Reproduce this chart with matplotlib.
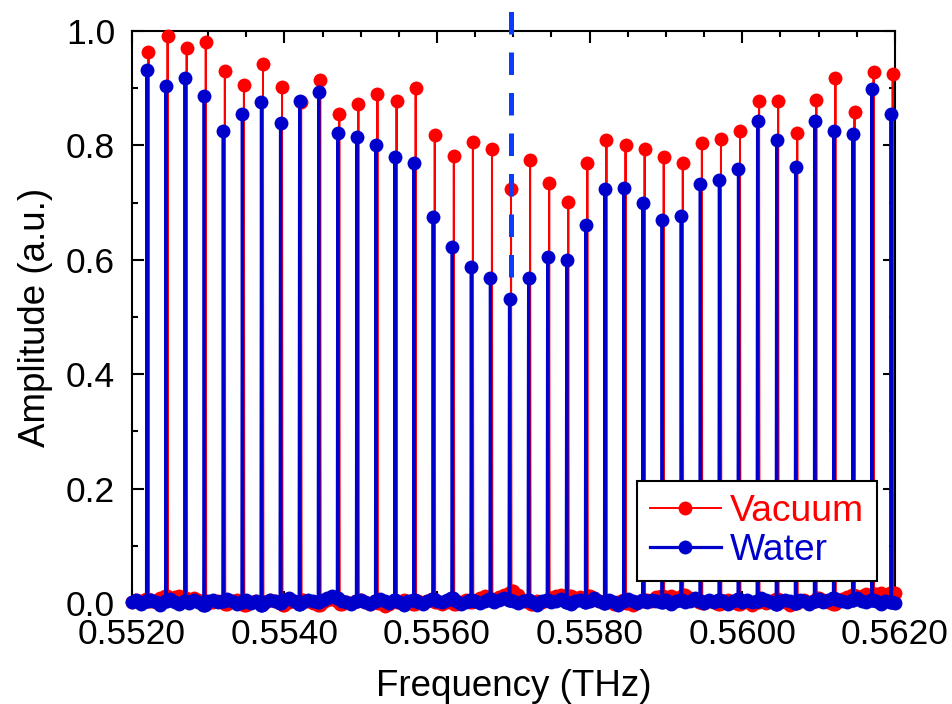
import numpy as np
import matplotlib.pyplot as plt
from matplotlib.ticker import MultipleLocator, FormatStrFormatter

plt.rcParams["font.family"] = ["Liberation Sans", "DejaVu Sans"]

# comb line frequencies (THz)
peak_freq = [
    0.55220, 0.55245, 0.55270, 0.55295, 0.55320, 0.55345, 0.55370, 0.55395,
    0.55420, 0.55445, 0.55470, 0.55495, 0.55520, 0.55545, 0.55570, 0.55595,
    0.55620, 0.55645, 0.55670, 0.55695, 0.55720, 0.55745, 0.55770, 0.55795,
    0.55820, 0.55845, 0.55870, 0.55895, 0.55920, 0.55945, 0.55970, 0.55995,
    0.56020, 0.56045, 0.56070, 0.56095, 0.56120, 0.56145, 0.56170, 0.56195,
]
vacuum_peak = [
    0.964, 0.991, 0.971, 0.980, 0.930, 0.906, 0.942, 0.902,
    0.875, 0.914, 0.854, 0.872, 0.889, 0.878, 0.901, 0.818,
    0.781, 0.806, 0.793, 0.724, 0.774, 0.734, 0.701, 0.769,
    0.809, 0.800, 0.793, 0.780, 0.769, 0.805, 0.811, 0.826,
    0.878, 0.877, 0.822, 0.880, 0.917, 0.858, 0.928, 0.925,
]
water_peak = [
    0.931, 0.904, 0.917, 0.886, 0.826, 0.855, 0.875, 0.839,
    0.878, 0.893, 0.821, 0.815, 0.800, 0.779, 0.770, 0.674,
    0.623, 0.587, 0.568, 0.531, 0.569, 0.604, 0.600, 0.660,
    0.723, 0.725, 0.699, 0.670, 0.677, 0.732, 0.740, 0.759,
    0.843, 0.809, 0.762, 0.843, 0.826, 0.820, 0.899, 0.855,
]
# off-line background level, sampled every 0.0000625 THz from 0.5520
vacuum_base = [
    0.002, 0.005, 0.003, 0.007, 0.004, 0.002, 0.009, 0.012, 0.008, 0.011,
    0.013, 0.009, 0.005, 0.008, 0.006, 0.003, 0.000, 0.002, 0.004, 0.001,
    -0.002, 0.003, 0.005, 0.000, -0.004, 0.001, 0.004, -0.001, 0.002, 0.005,
    0.003, 0.000, -0.003, 0.002, 0.004, 0.001, 0.006, 0.003, 0.000, -0.003,
    0.001, 0.005, 0.007, 0.003, -0.001, 0.002, 0.000, 0.004, 0.006, 0.001,
    -0.002, 0.003, 0.000, -0.005, -0.001, 0.003, 0.001, 0.005, 0.002, -0.001,
    0.003, 0.000, 0.004, 0.007, 0.002, -0.002, 0.001, 0.004, -0.001, 0.002,
    0.005, 0.001, 0.003, 0.008, 0.012, 0.007, 0.003, 0.010, 0.014, 0.018,
    0.021, 0.014, 0.006, 0.002, -0.001, 0.003, 0.001, 0.005, 0.008, 0.012,
    0.014, 0.010, 0.013, 0.008, 0.011, 0.006, 0.012, 0.008, 0.004, 0.001,
    0.003, -0.001, 0.002, 0.005, 0.000, -0.004, 0.001, 0.004, 0.006, 0.003,
    0.010, 0.013, 0.009, 0.012, 0.008, 0.011, 0.014, 0.009, 0.005, 0.002,
    0.000, 0.004, 0.001, -0.002, 0.003, 0.005, 0.002, -0.001, 0.004, 0.001,
    -0.003, 0.002, 0.005, 0.000, 0.003, 0.007, 0.004, 0.001, -0.004, 0.000,
    0.003, 0.005, 0.001, 0.004, 0.008, 0.005, 0.002, -0.001, 0.003, 0.007,
    0.010, 0.014, 0.010, 0.013, 0.016, 0.012, 0.015, 0.018, 0.014, 0.017,
    0.017,
]
water_base = [
    0.002, 0.005, -0.002, 0.003, 0.006, 0.001, -0.003, 0.004, 0.007, 0.002,
    -0.001, 0.004, 0.000, 0.005, 0.002, -0.003, 0.003, 0.006, 0.001, 0.004,
    0.007, 0.003, -0.002, 0.002, 0.005, 0.000, 0.004, -0.004, 0.001, 0.006,
    0.003, 0.000, 0.005, 0.008, 0.004, -0.002, 0.002, 0.006, 0.003, 0.001,
    0.005, 0.009, 0.012, 0.008, 0.004, 0.001, -0.002, 0.003, 0.006, 0.002,
    -0.001, 0.004, 0.007, 0.003, 0.000, 0.005, 0.002, -0.003, 0.004, 0.006,
    0.002, -0.002, 0.003, 0.007, 0.004, 0.001, 0.005, 0.008, 0.003, -0.001,
    0.002, 0.006, 0.003, 0.000, 0.004, 0.007, 0.002, 0.005, 0.009, 0.006,
    0.003, 0.000, 0.004, 0.006, 0.002, -0.003, 0.003, 0.005, 0.001, 0.004,
    0.007, 0.002, -0.002, 0.004, 0.006, 0.001, 0.003, 0.008, 0.004, 0.000,
    0.005, 0.002, -0.003, 0.004, 0.007, 0.003, 0.000, 0.005, 0.002, 0.006,
    0.004, 0.001, 0.005, -0.002, 0.003, 0.006, 0.002, 0.004, 0.008, 0.003,
    0.000, 0.005, 0.002, 0.006, 0.003, -0.002, 0.004, 0.007, 0.002, 0.005,
    0.001, 0.004, 0.008, 0.005, 0.002, -0.001, 0.003, 0.006, 0.004, 0.000,
    0.005, 0.003, -0.002, 0.004, 0.007, 0.002, 0.005, 0.009, 0.006, 0.003,
    0.001, 0.005, 0.008, 0.004, 0.002, 0.006, 0.003, -0.001, 0.004, 0.002,
    0.000,
]
marker_freq = 0.55697
vacuum_shift = 0.00002


def spectrum(pf, pa, base):
    pf = np.asarray(pf)
    base = np.asarray(base)
    bf = np.linspace(0.5520, 0.5620, len(base))
    feet = np.concatenate([pf - 0.000006, pf + 0.000006])
    # each spike foot sits on the nearest background sample
    nearest = np.abs(feet[:, None] - bf[None, :]).argmin(axis=1)
    f = np.concatenate([bf, feet, pf])
    a = np.concatenate([base, base[nearest], pa])
    order = np.argsort(f)
    return f[order], a[order]


fig = plt.figure(figsize=(9.53, 7.04), dpi=100)
ax = fig.add_axes([0.1382, 0.1435, 0.8009, 0.8125])

fv, av = spectrum(np.asarray(peak_freq) + vacuum_shift, vacuum_peak, vacuum_base)
fw, aw = spectrum(peak_freq, water_peak, water_base)
ax.plot(fv, av, color="#ff0000", lw=1.4, marker="o", ms=10, mew=0,
        label="Vacuum", clip_on=False, zorder=3)
ax.plot(fw, aw, color="#0000cc", lw=2.3, marker="o", ms=10, mew=0,
        label="Water", clip_on=False, zorder=4)
ax.plot([marker_freq, marker_freq], [0.57, 1.04], color="#0a3cff", lw=3.6,
        dashes=(4.5, 3.6), clip_on=False, zorder=5)

ax.set_xlim(0.5520, 0.5620)
ax.set_ylim(0.0, 1.0)
ax.xaxis.set_major_locator(MultipleLocator(0.002))
ax.xaxis.set_minor_locator(MultipleLocator(0.0005))
ax.yaxis.set_major_locator(MultipleLocator(0.2))
ax.yaxis.set_minor_locator(MultipleLocator(0.1))
ax.xaxis.set_major_formatter(FormatStrFormatter("%.4f"))
ax.yaxis.set_major_formatter(FormatStrFormatter("%.1f"))
ax.tick_params(which="both", direction="in", top=True, right=True, width=1.5,
               labelsize=25.5)
ax.tick_params(which="major", length=8.5)
ax.tick_params(which="minor", length=4.3)
ax.tick_params(axis="x", which="major", pad=11)
ax.tick_params(axis="y", which="major", pad=12)
for s in ax.spines.values():
    s.set_linewidth(1.5)

ax.set_xlabel("Frequency (THz)", fontsize=26.5, labelpad=13)
ax.set_ylabel("Amplitude (a.u.)", fontsize=26.5, labelpad=9)

leg = ax.legend(loc="lower left", bbox_to_anchor=(0.662, 0.0385), fontsize=26.8,
                frameon=True, fancybox=False, framealpha=1, edgecolor="black",
                handlelength=1.9, handletextpad=0.25, borderpad=0.35,
                labelspacing=0.1, borderaxespad=0)
leg.get_frame().set_linewidth(1.5)
for txt, c in zip(leg.get_texts(), ["#ff0000", "#0000cc"]):
    txt.set_color(c)

fig.savefig("out.png", dpi=100)
